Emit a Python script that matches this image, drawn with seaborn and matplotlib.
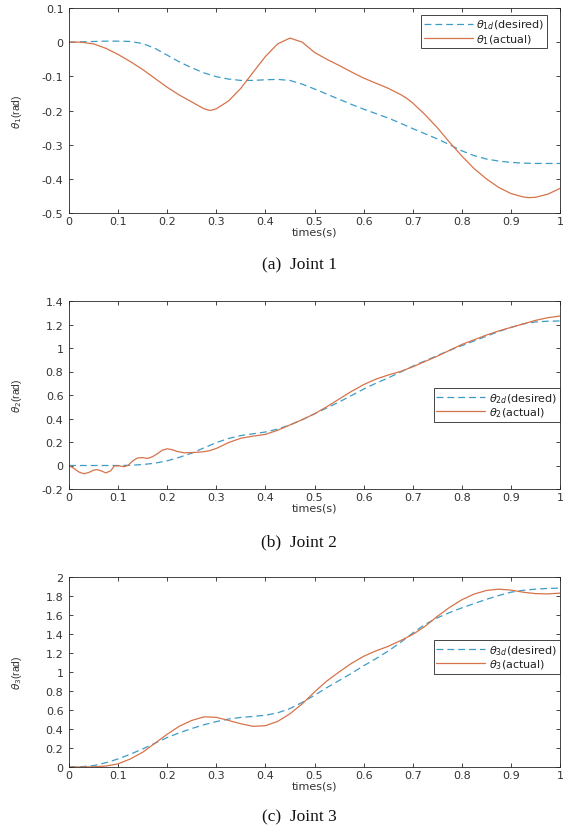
import numpy as np
import matplotlib
matplotlib.use("Agg")
import matplotlib.pyplot as plt
from matplotlib.ticker import FuncFormatter
import seaborn as sns

# ---- joint trajectories (rad) over one second ----
t_grid = np.linspace(0, 1, 41)

theta1_desired = [0, 0.001, 0.002, 0.003, 0.003, 0.002, -0.004, -0.018, -0.038, -0.058,
                  -0.075, -0.09, -0.101, -0.108, -0.112, -0.112, -0.11, -0.109, -0.112, -0.123,
                  -0.137, -0.152, -0.167, -0.182, -0.196, -0.209, -0.222, -0.237, -0.253, -0.268,
                  -0.283, -0.3, -0.318, -0.332, -0.342, -0.348, -0.352, -0.354, -0.355, -0.355,
                  -0.355]
theta1_actual_t = [0, 0.025, 0.05, 0.075, 0.1, 0.125, 0.15, 0.175, 0.2, 0.225,
                   0.25, 0.275, 0.2875, 0.3, 0.325, 0.35, 0.375, 0.4, 0.425, 0.45,
                   0.475, 0.5, 0.525, 0.55, 0.575, 0.6, 0.625, 0.65, 0.675, 0.6875, 0.7,
                   0.725, 0.75, 0.775, 0.8, 0.825, 0.85, 0.875, 0.9, 0.925, 0.9375,
                   0.95, 0.975, 1.0]
theta1_actual = [0, 0.0, -0.005, -0.018, -0.036, -0.057, -0.08, -0.106, -0.132, -0.155,
                 -0.175, -0.195, -0.2, -0.195, -0.172, -0.135, -0.088, -0.042, -0.005, 0.012,
                 0.0, -0.03, -0.05, -0.068, -0.087, -0.105, -0.12, -0.135, -0.153, -0.164, -0.178,
                 -0.212, -0.25, -0.293, -0.333, -0.37, -0.4, -0.425, -0.443, -0.453, -0.455,
                 -0.454, -0.445, -0.428]

theta2_desired = [0, 0, 0, 0, 0, 0.002, 0.008, 0.02, 0.04, 0.07,
                  0.105, 0.15, 0.195, 0.23, 0.255, 0.27, 0.285, 0.31, 0.345, 0.39,
                  0.44, 0.49, 0.54, 0.595, 0.65, 0.7, 0.745, 0.795, 0.845, 0.89,
                  0.935, 0.98, 1.02, 1.06, 1.1, 1.14, 1.175, 1.205, 1.222, 1.228,
                  1.23]
theta2_actual_t = [0, 0.01, 0.02, 0.03, 0.04, 0.05, 0.057, 0.065, 0.075, 0.085,
                   0.092, 0.1, 0.112, 0.12, 0.13, 0.14, 0.15, 0.16, 0.17, 0.18,
                   0.19, 0.2, 0.21, 0.22, 0.235, 0.25, 0.27, 0.285, 0.3, 0.325,
                   0.35, 0.375, 0.4, 0.425, 0.45, 0.475, 0.5, 0.525, 0.55, 0.575,
                   0.6, 0.625, 0.65, 0.675, 0.7, 0.725, 0.75, 0.775, 0.8, 0.825,
                   0.85, 0.875, 0.9, 0.925, 0.95, 0.975, 1.0]
theta2_actual = [0, -0.025, -0.055, -0.07, -0.06, -0.04, -0.035, -0.045, -0.063, -0.045,
                 -0.005, -0.002, -0.01, 0.0, 0.04, 0.065, 0.067, 0.06, 0.075, 0.1,
                 0.13, 0.142, 0.135, 0.12, 0.108, 0.11, 0.115, 0.125, 0.145, 0.195,
                 0.232, 0.25, 0.265, 0.3, 0.345, 0.39, 0.44, 0.5, 0.565, 0.63,
                 0.688, 0.735, 0.77, 0.8, 0.84, 0.885, 0.93, 0.98, 1.03, 1.07,
                 1.11, 1.145, 1.175, 1.205, 1.235, 1.258, 1.272]

theta3_desired = [0, 0.003, 0.015, 0.045, 0.085, 0.135, 0.19, 0.25, 0.31, 0.36,
                  0.405, 0.445, 0.478, 0.505, 0.522, 0.532, 0.545, 0.57, 0.615, 0.68,
                  0.755, 0.835, 0.91, 0.985, 1.065, 1.14, 1.22, 1.31, 1.41, 1.5,
                  1.57, 1.625, 1.675, 1.72, 1.765, 1.805, 1.84, 1.86, 1.872, 1.88,
                  1.883]
theta3_actual = [0, 0, 0.002, 0.01, 0.033, 0.085, 0.155, 0.25, 0.345, 0.43,
                 0.49, 0.528, 0.523, 0.49, 0.455, 0.428, 0.435, 0.48, 0.56, 0.665,
                 0.79, 0.905, 1.0, 1.09, 1.165, 1.222, 1.27, 1.33, 1.395, 1.48,
                 1.585, 1.68, 1.76, 1.82, 1.858, 1.872, 1.862, 1.84, 1.825, 1.822,
                 1.83]

x_ticks = [0, 0.1, 0.2, 0.3, 0.4, 0.5, 0.6, 0.7, 0.8, 0.9, 1.0]
y_ticks = [
    [-0.5, -0.4, -0.3, -0.2, -0.1, 0, 0.1],
    [-0.2, 0, 0.2, 0.4, 0.6, 0.8, 1.0, 1.2, 1.4],
    [0, 0.2, 0.4, 0.6, 0.8, 1.0, 1.2, 1.4, 1.6, 1.8, 2.0],
]
captions = ["(a)  Joint 1", "(b)  Joint 2", "(c)  Joint 3"]

BLUE = "#3D9CC6"
ORANGE = "#D6734A"
INK = "#262626"

sns.set_style("ticks", {
    "xtick.direction": "in", "ytick.direction": "in",
    "axes.edgecolor": INK, "xtick.color": INK, "ytick.color": INK,
})
plt.rcParams["font.family"] = ["DejaVu Sans"]
plt.rcParams["axes.unicode_minus"] = False
plt.rcParams["mathtext.fontset"] = "dejavusans"

fig = plt.figure(figsize=(5.65, 8.29), dpi=100)

W_PX, H_PX = 565, 829
left_px, right_px = 69, 560
panel_px = [(9, 214), (302, 490), (578, 768)]
caption_px = [265, 542, 817]
legend_anchor = [(0.974, 0.966), (1.0, 0.535), (1.0, 0.667)]

series = [
    (t_grid, theta1_desired, theta1_actual_t, theta1_actual),
    (t_grid, theta2_desired, theta2_actual_t, theta2_actual),
    (t_grid, theta3_desired, t_grid, theta3_actual),
]

fmt = FuncFormatter(lambda v, _: "%g" % round(v, 3))

for i, ((td, yd, ta, ya), (top, bot)) in enumerate(zip(series, panel_px)):
    n = i + 1
    ax = fig.add_axes([left_px / W_PX, 1 - bot / H_PX,
                       (right_px - left_px) / W_PX, (bot - top) / H_PX])
    sns.lineplot(x=list(td), y=yd, ax=ax, color=BLUE, linewidth=0.9,
                 linestyle=(0, (5.5, 3.2)), sort=False, estimator=None,
                 label=r"$\theta_{%dd}$(desired)" % n)
    sns.lineplot(x=list(ta), y=ya, ax=ax, color=ORANGE, linewidth=0.9,
                 sort=False, estimator=None,
                 label=r"$\theta_{%d}$(actual)" % n)

    ax.set_xlim(0, 1)
    ax.set_ylim(y_ticks[i][0], y_ticks[i][-1])
    ax.set_xticks(x_ticks)
    ax.set_yticks(y_ticks[i])
    ax.xaxis.set_major_formatter(fmt)
    ax.yaxis.set_major_formatter(fmt)
    ax.tick_params(axis="both", which="both", direction="in", top=True, right=True,
                   length=3, width=0.6, labelsize=8, labelcolor="#333333")
    ax.tick_params(axis="x", pad=2)
    ax.tick_params(axis="y", pad=4)
    for sp in ax.spines.values():
        sp.set_visible(True)
        sp.set_linewidth(0.6)
        sp.set_color(INK)

    ax.set_xlabel("times(s)", fontsize=8, color="#333333", labelpad=0.5)
    ax.set_ylabel(r"$\theta_{%d}$(rad)" % n, fontsize=7.5, color="#333333",
                  family=["Liberation Sans"])
    ax.yaxis.set_label_coords(-0.092, 0.5)

    leg = ax.legend(loc="upper right", bbox_to_anchor=legend_anchor[i],
                    fontsize=8, frameon=True, fancybox=False, framealpha=1,
                    edgecolor=INK, borderpad=0.25, labelspacing=0.05,
                    handlelength=4.4, handletextpad=0.35, borderaxespad=0)
    leg.get_frame().set_linewidth(0.6)
    for txt in leg.get_texts():
        txt.set_color("#222222")

    fig.text(299 / W_PX, 1 - caption_px[i] / H_PX, captions[i],
             ha="center", va="center", fontsize=12.5,
             family=["Liberation Serif"], color="#111111")

fig.savefig("out.png", dpi=100)
